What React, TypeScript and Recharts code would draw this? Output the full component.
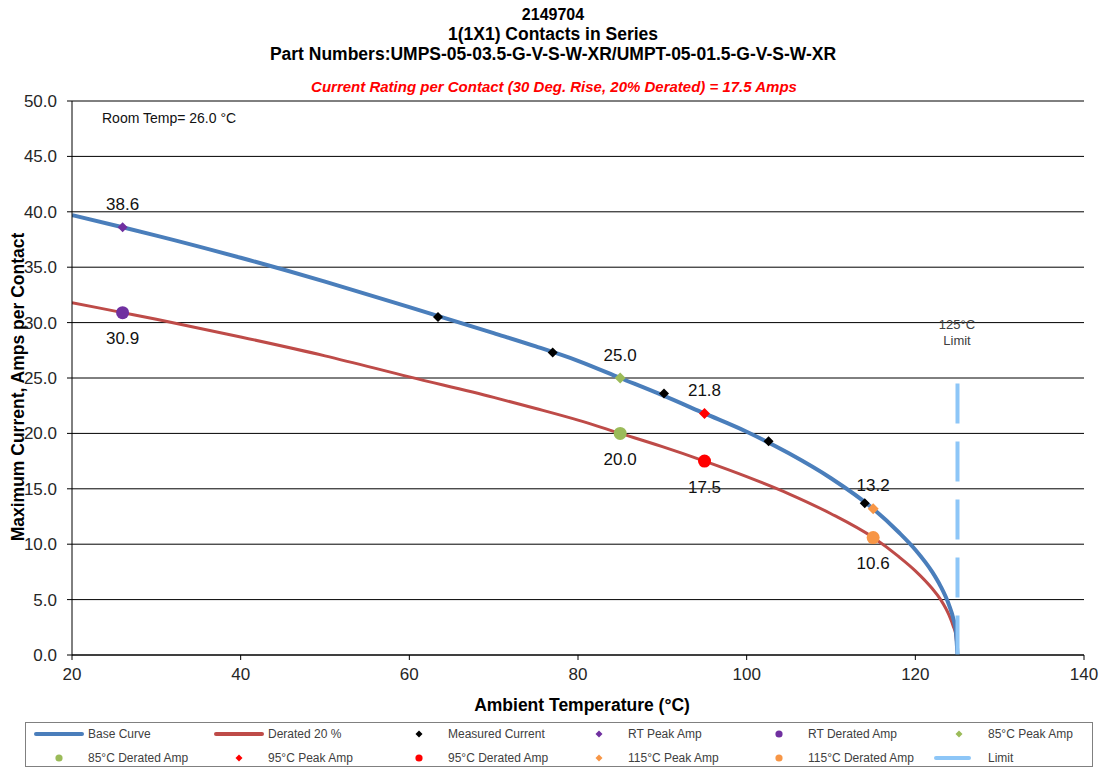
import React from "react";
import {
  ComposedChart,
  Line,
  Scatter,
  XAxis,
  YAxis,
  CartesianGrid,
  Legend,
} from "recharts";

// ---- data ----
const baseTemps = [20, 26, 30, 40, 50, 60, 70, 75, 80, 85, 90, 95, 100, 105, 110, 115, 118, 120, 122, 123, 124, 124.5, 124.8, 125];
const baseAmps = [39.7, 38.6, 37.85, 35.85, 33.7, 31.4, 29.05, 27.85, 26.55, 25.0, 23.45, 21.8, 20.15, 18.2, 15.95, 13.2, 11.1, 9.5, 7.5, 6.2, 4.5, 3.3, 2.2, 0];
const deratedAmps = [31.8, 30.9, 30.3, 28.7, 27.0, 25.1, 23.25, 22.25, 21.2, 20.0, 18.8, 17.5, 16.1, 14.55, 12.75, 10.6, 8.9, 7.6, 6.0, 5.0, 3.6, 2.6, 1.8, 0];

const measuredTemps = [63.4, 77, 90.2, 102.6, 114];
const measuredAmps = [30.5, 27.3, 23.6, 19.3, 13.7];

const limitTemps = [125, 125];
const limitAmps = [24.5, 0];

const rtPeak = [{ x: 26, y: 38.6 }];
const rtDerated = [{ x: 26, y: 30.9 }];
const peak85 = [{ x: 85, y: 25.0 }];
const derated85 = [{ x: 85, y: 20.0 }];
const peak95 = [{ x: 95, y: 21.8 }];
const derated95 = [{ x: 95, y: 17.5 }];
const peak115 = [{ x: 115, y: 13.2 }];
const derated115 = [{ x: 115, y: 10.6 }];

const xTicks = [20, 40, 60, 80, 100, 120, 140];
const yTicks = [0, 5, 10, 15, 20, 25, 30, 35, 40, 45, 50];

const titleLines = [
  "2149704",
  "1(1X1) Contacts in Series",
  "Part Numbers:UMPS-05-03.5-G-V-S-W-XR/UMPT-05-01.5-G-V-S-W-XR",
];
const subtitle = "Current Rating per Contact (30 Deg. Rise, 20% Derated)  = 17.5 Amps";

const legendItems = [
  { name: "Base Curve", kind: "line", color: "#4A7EBB" },
  { name: "Derated 20 %", kind: "line", color: "#BE4B48" },
  { name: "Measured Current", kind: "diamond", color: "#000000" },
  { name: "RT Peak Amp", kind: "diamond", color: "#7030A0" },
  { name: "RT Derated Amp", kind: "circle", color: "#7030A0" },
  { name: "85°C Peak Amp", kind: "diamond", color: "#9BBB59" },
  { name: "85°C Derated Amp", kind: "circle", color: "#9BBB59" },
  { name: "95°C Peak Amp", kind: "diamond", color: "#FF0000" },
  { name: "95°C Derated Amp", kind: "circle", color: "#FF0000" },
  { name: "115°C Peak Amp", kind: "diamond", color: "#F79646" },
  { name: "115°C Derated Amp", kind: "circle", color: "#F79646" },
  { name: "Limit", kind: "shortline", color: "#8DC6F7" },
];

const toPoints = (xs: number[], ys: number[]) => xs.map((x, i) => ({ x, y: ys[i] }));
const baseData = toPoints(baseTemps, baseAmps);
const deratedData = toPoints(baseTemps, deratedAmps);
const measuredData = toPoints(measuredTemps, measuredAmps);
const limitData = toPoints(limitTemps, limitAmps);

const FONT = "'Liberation Sans', Arial, sans-serif";

type LabelPos = "top" | "bottom" | "none";

const makeShape = (kind: "diamond" | "circle", color: string, r: number, labelPos: LabelPos) => (props: any) => {
  const { cx, cy, payload } = props;
  if (cx == null || cy == null) return <g />;
  const mark =
    kind === "diamond" ? (
      <path d={`M${cx},${cy - r} L${cx + r},${cy} L${cx},${cy + r} L${cx - r},${cy} Z`} fill={color} />
    ) : (
      <circle cx={cx} cy={cy} r={r} fill={color} />
    );
  return (
    <g>
      {mark}
      {labelPos !== "none" && (
        <text
          x={cx}
          y={labelPos === "top" ? cy - 23 : cy + 26}
          textAnchor="middle"
          dominantBaseline="central"
          fontSize={17}
          fontFamily={FONT}
          fill="#111"
        >
          {Number(payload.y).toFixed(1)}
        </text>
      )}
    </g>
  );
};

const LegendBox = () => (
  <div
    style={{
      position: "absolute",
      left: 25,
      top: 722,
      width: 1068,
      height: 45,
      border: "1px solid #808080",
      boxSizing: "border-box",
      fontFamily: FONT,
      fontSize: 12,
      color: "#404040",
      background: "#fff",
    }}
  >
    {legendItems.map((it, i) => {
      const col = i % 6;
      const row = Math.floor(i / 6);
      const cxSym = 33 + 180 * col;
      const cy = row === 0 ? 11 : 35;
      const textX = 62 + 180 * col;
      let sym: React.ReactNode = null;
      if (it.kind === "line") {
        sym = (
          <svg style={{ position: "absolute", left: cxSym - 25, top: cy - 4 }} width={50} height={8}>
            <line x1={2} y1={4} x2={48} y2={4} stroke={it.color} strokeWidth={4} strokeLinecap="round" />
          </svg>
        );
      } else if (it.kind === "shortline") {
        sym = (
          <svg style={{ position: "absolute", left: cxSym - 26, top: cy - 4 }} width={40} height={8}>
            <line x1={3} y1={4} x2={36} y2={4} stroke={it.color} strokeWidth={4} strokeLinecap="round" />
          </svg>
        );
      } else if (it.kind === "diamond") {
        sym = (
          <svg style={{ position: "absolute", left: cxSym - 5, top: cy - 5 }} width={10} height={10}>
            <path d="M5,1.5 L8.5,5 L5,8.5 L1.5,5 Z" fill={it.color} />
          </svg>
        );
      } else {
        sym = (
          <svg style={{ position: "absolute", left: cxSym - 5, top: cy - 5 }} width={10} height={10}>
            <circle cx={5} cy={5} r={3.6} fill={it.color} />
          </svg>
        );
      }
      return (
        <React.Fragment key={it.name}>
          {sym}
          <div style={{ position: "absolute", left: textX, top: cy - 8, lineHeight: "16px", whiteSpace: "nowrap" }}>
            {it.name}
          </div>
        </React.Fragment>
      );
    })}
  </div>
);

export default function App() {
  return (
    <div style={{ position: "absolute", left: 0, top: 0, width: 1104, height: 770, background: "#fff", fontFamily: FONT }}>
      <ComposedChart width={1104} height={770} margin={{ top: 101, right: 20, bottom: 85, left: 0 }}>
        <CartesianGrid vertical={false} stroke="#000" strokeWidth={1} />
        <XAxis
          type="number"
          dataKey="x"
          domain={[20, 140]}
          ticks={xTicks}
          allowDataOverflow
          height={30}
          tickSize={5}
          tickMargin={8}
          axisLine={{ stroke: "#000" }}
          tickLine={{ stroke: "#000" }}
          tick={{ fontSize: 17, fill: "#262626", fontFamily: FONT }}
          label={{
            content: () => (
              <text x={582} y={705} textAnchor="middle" dominantBaseline="central" fontSize={17.5} fontWeight="bold" fontFamily={FONT} fill="#000">
                Ambient Temperature (°C)
              </text>
            ),
          }}
        />
        <YAxis
          type="number"
          domain={[0, 50]}
          ticks={yTicks}
          width={72}
          tickSize={5}
          tickMargin={10}
          axisLine={{ stroke: "#000" }}
          tickLine={{ stroke: "#000" }}
          tickFormatter={(v: number) => v.toFixed(1)}
          tick={{ fontSize: 17, fill: "#262626", fontFamily: FONT }}
          label={{
            content: () => (
              <text
                x={18}
                y={387}
                transform="rotate(-90 18 387)"
                textAnchor="middle"
                dominantBaseline="central"
                fontSize={17.5}
                fontWeight="bold"
                fontFamily={FONT}
                fill="#000"
              >
                Maximum Current, Amps per Contact
              </text>
            ),
          }}
        />
        <Line data={deratedData} dataKey="y" type="monotone" stroke="#BE4B48" strokeWidth={3} dot={false} isAnimationActive={false} />
        <Line data={baseData} dataKey="y" type="monotone" stroke="#4A7EBB" strokeWidth={4} dot={false} isAnimationActive={false} />
        <Line data={limitData} dataKey="y" type="linear" stroke="#8DC6F7" strokeWidth={4} strokeDasharray="40 18" dot={false} isAnimationActive={false} />
        <Scatter data={measuredData} dataKey="y" shape={makeShape("diamond", "#000000", 5, "none")} isAnimationActive={false} />
        <Scatter data={rtPeak} dataKey="y" shape={makeShape("diamond", "#7030A0", 5, "top")} isAnimationActive={false} />
        <Scatter data={rtDerated} dataKey="y" shape={makeShape("circle", "#7030A0", 6.5, "bottom")} isAnimationActive={false} />
        <Scatter data={peak85} dataKey="y" shape={makeShape("diamond", "#9BBB59", 5.5, "top")} isAnimationActive={false} />
        <Scatter data={derated85} dataKey="y" shape={makeShape("circle", "#9BBB59", 6.5, "bottom")} isAnimationActive={false} />
        <Scatter data={peak95} dataKey="y" shape={makeShape("diamond", "#FF0000", 5.5, "top")} isAnimationActive={false} />
        <Scatter data={derated95} dataKey="y" shape={makeShape("circle", "#FF0000", 6.5, "bottom")} isAnimationActive={false} />
        <Scatter data={peak115} dataKey="y" shape={makeShape("diamond", "#F79646", 5.5, "top")} isAnimationActive={false} />
        <Scatter data={derated115} dataKey="y" shape={makeShape("circle", "#F79646", 6.5, "bottom")} isAnimationActive={false} />
        <Legend
          layout="horizontal"
          verticalAlign="middle"
          align="center"
          wrapperStyle={{ position: "absolute", left: 0, top: 0, width: 0, height: 0 }}
          content={() => <LegendBox />}
        />
      </ComposedChart>

      {titleLines.map((t, i) => (
        <div
          key={t}
          style={{
            position: "absolute",
            left: 0,
            width: 1106,
            top: [15, 34, 54][i] - 10,
            height: 20,
            lineHeight: "20px",
            textAlign: "center",
            fontWeight: "bold",
            fontSize: i === 0 ? 16 : 17.5,
            color: "#000",
          }}
        >
          {t}
        </div>
      ))}
      <div
        style={{
          position: "absolute",
          left: 0,
          width: 1108,
          top: 78,
          height: 18,
          lineHeight: "18px",
          textAlign: "center",
          fontWeight: "bold",
          fontStyle: "italic",
          fontSize: 15,
          color: "#FF0000",
        }}
      >
        {subtitle}
      </div>
      <div style={{ position: "absolute", left: 102, top: 110, fontSize: 14, lineHeight: "16px", color: "#111" }}>
        Room Temp= 26.0 °C
      </div>
      <div
        style={{
          position: "absolute",
          left: 917,
          width: 80,
          top: 317,
          fontSize: 13,
          lineHeight: "16px",
          textAlign: "center",
          color: "#404040",
        }}
      >
        125°C
        <br />
        Limit
      </div>
    </div>
  );
}
